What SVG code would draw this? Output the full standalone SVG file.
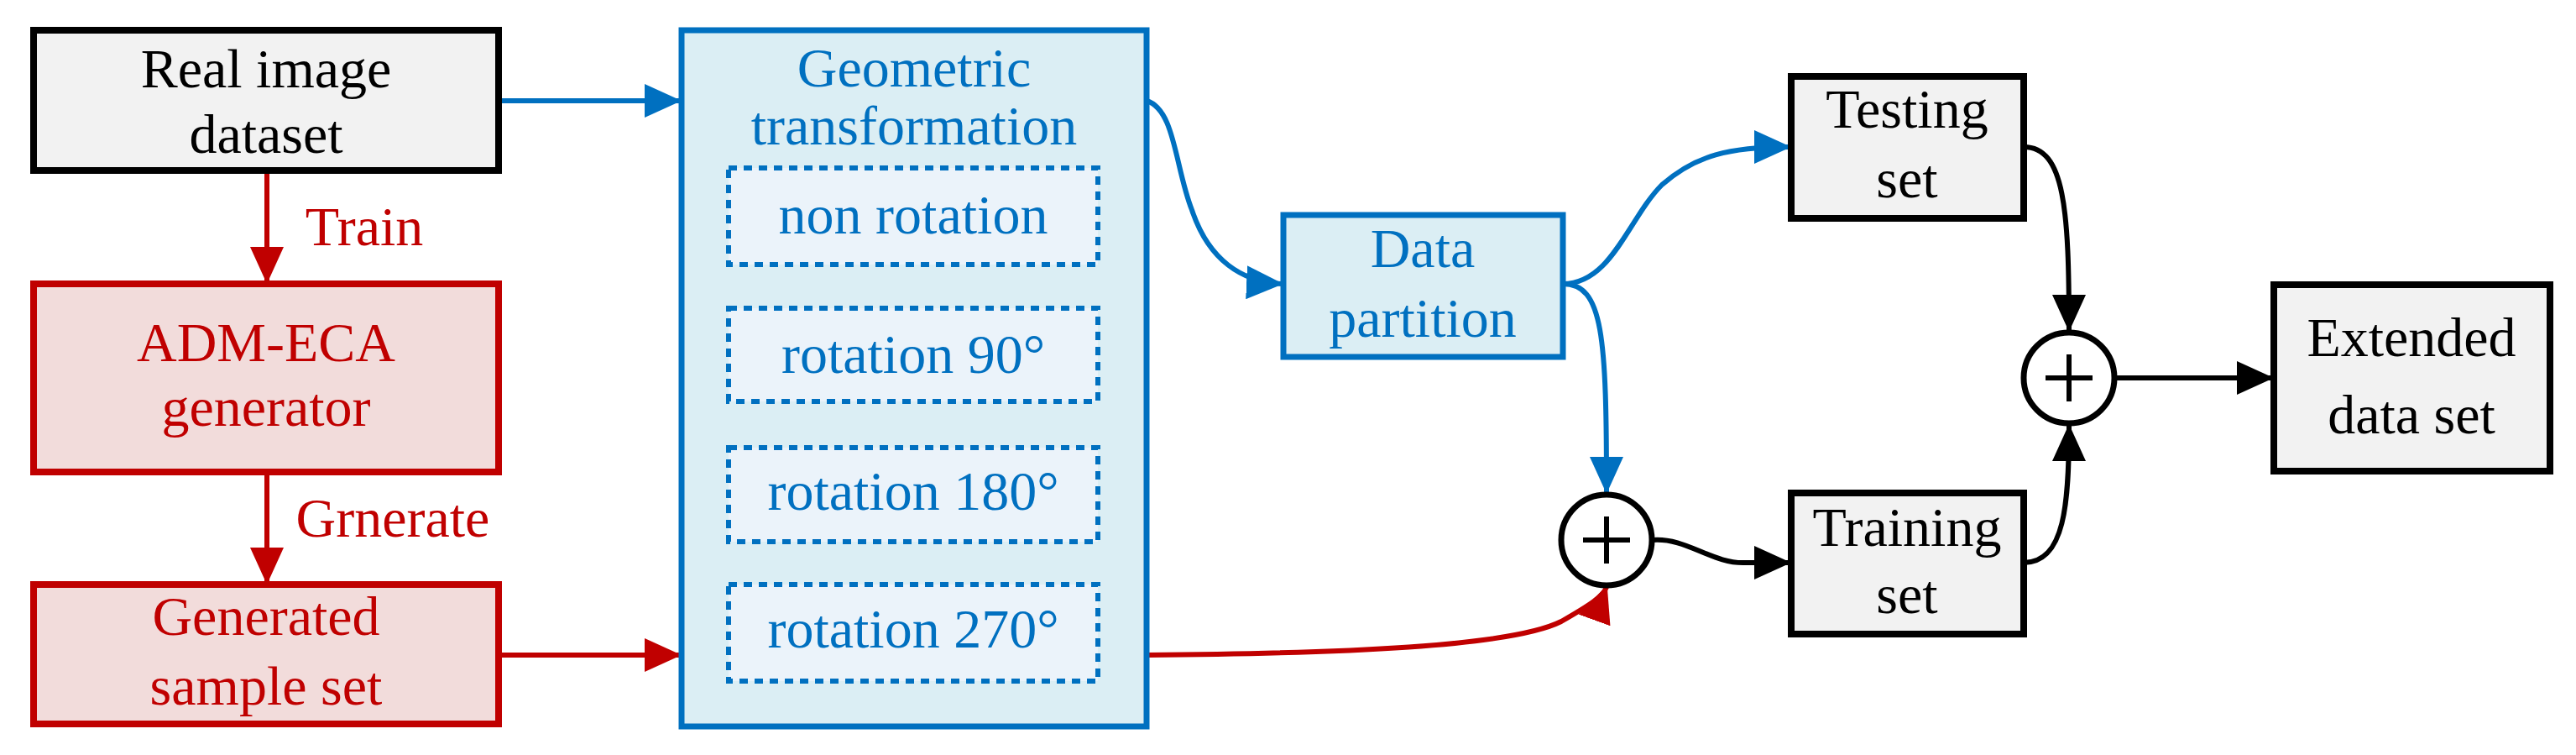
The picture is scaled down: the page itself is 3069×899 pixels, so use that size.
<svg xmlns="http://www.w3.org/2000/svg" width="3069" height="899" viewBox="0 0 3069 899">
<style>
text{font-family:"Liberation Serif","Times New Roman",serif;font-size:66px;text-anchor:middle}
.k{fill:#000}.r{fill:#c00000}.b{fill:#0070c0}
.gb{fill:#f2f2f2;stroke:#000;stroke-width:8}
.rb{fill:#f2dcdb;stroke:#c00000;stroke-width:8}
.bb{fill:#dbeef4;stroke:#0070c0;stroke-width:7}
.db{fill:#ebf3fa;stroke:#0070c0;stroke-width:6;stroke-dasharray:10 8}
.pl{fill:#fff;stroke:#000;stroke-width:7}
.cb{fill:none;stroke:#0070c0;stroke-width:6}
.cr{fill:none;stroke:#c00000;stroke-width:6}
.ck{fill:none;stroke:#000;stroke-width:6}
</style>
<defs>
<marker id="ab" markerUnits="userSpaceOnUse" markerWidth="44" markerHeight="40" refX="42" refY="20" orient="auto"><path d="M0,0 L44,20 L0,40 z" fill="#0070c0"/></marker>
<marker id="ar" markerUnits="userSpaceOnUse" markerWidth="44" markerHeight="40" refX="42" refY="20" orient="auto"><path d="M0,0 L44,20 L0,40 z" fill="#c00000"/></marker>
<marker id="ak" markerUnits="userSpaceOnUse" markerWidth="44" markerHeight="40" refX="42" refY="20" orient="auto"><path d="M0,0 L44,20 L0,40 z" fill="#000"/></marker>
</defs>
<g id="connectors">
<path class="cb" d="M594,120 L810,120" marker-end="url(#ab)"/>
<path class="cr" d="M318,203 L318,336" marker-end="url(#ar)"/>
<path class="cr" d="M318,562 L318,694" marker-end="url(#ar)"/>
<path class="cr" d="M594,780 L810,780" marker-end="url(#ar)"/>
<path class="cb" d="M1366,120 C1400,130 1400,200 1420,250 C1440,310 1480,336 1527,338" marker-end="url(#ab)"/>
<path class="cb" d="M1862,338 C1920,338 1940,260 1980,220 C2020,185 2060,175 2132,175" marker-end="url(#ab)"/>
<path class="cb" d="M1862,338 C1910,338 1914,400 1914,586" marker-end="url(#ab)"/>
<path class="cr" d="M1366,780 C1600,778 1800,770 1860,740 C1895,720 1910,710 1914,699" marker-end="url(#ar)"/>
<path class="ck" d="M1969,643 C2010,640 2040,672 2080,670 L2132,670" marker-end="url(#ak)"/>
<path class="ck" d="M2411,175 C2460,175 2465,250 2465,393" marker-end="url(#ak)"/>
<path class="ck" d="M2411,670 C2460,670 2465,600 2465,507" marker-end="url(#ak)"/>
<path class="ck" d="M2520,450 L2707,450" marker-end="url(#ak)"/>
</g>
<g id="real"><rect class="gb" x="40" y="36" width="554" height="167"/><text class="k" x="317" y="104">Real image</text><text class="k" x="317" y="182">dataset</text></g>
<text class="r" x="434" y="292">Train</text>
<g id="adm"><rect class="rb" x="40" y="338" width="554" height="224"/><text class="r" x="317" y="430">ADM-ECA</text><text class="r" x="317" y="507">generator</text></g>
<text class="r" x="468" y="639">Grnerate</text>
<g id="generated"><rect class="rb" x="40" y="696" width="554" height="166"/><text class="r" x="317" y="756">Generated</text><text class="r" x="317" y="839">sample set</text></g>
<g id="geo"><rect class="bb" x="812" y="36" width="554" height="829"/><text class="b" x="1089" y="103">Geometric</text><text class="b" x="1089" y="172">transformation</text>
<rect class="db" x="868" y="200" width="440" height="115"/><text class="b" x="1088" y="278">non rotation</text>
<rect class="db" x="868" y="367" width="440" height="111"/><text class="b" x="1088" y="444">rotation 90°</text>
<rect class="db" x="868" y="533" width="440" height="112"/><text class="b" x="1088" y="607">rotation 180°</text>
<rect class="db" x="868" y="696" width="440" height="115"/><text class="b" x="1088" y="771">rotation 270°</text></g>
<g id="partition"><rect class="bb" x="1529" y="256" width="333" height="169"/><text class="b" x="1695" y="318">Data</text><text class="b" x="1695" y="401">partition</text></g>
<g id="testing"><rect class="gb" x="2134" y="91" width="277" height="169"/><text class="k" x="2272" y="152">Testing</text><text class="k" x="2272" y="235">set</text></g>
<g id="training"><rect class="gb" x="2134" y="587" width="277" height="168"/><text class="k" x="2272" y="650">Training</text><text class="k" x="2272" y="730">set</text></g>
<g id="plus1"><circle class="pl" cx="1914" cy="643" r="54"/><path d="M1914,615 V671 M1886,643 H1942" stroke="#000" stroke-width="6"/></g>
<g id="plus2"><circle class="pl" cx="2465" cy="450" r="54"/><path d="M2465,422 V478 M2437,450 H2493" stroke="#000" stroke-width="6"/></g>
<g id="extended"><rect class="gb" x="2709" y="339" width="329" height="222"/><text class="k" x="2873" y="424">Extended</text><text class="k" x="2873" y="516">data set</text></g>
</svg>
